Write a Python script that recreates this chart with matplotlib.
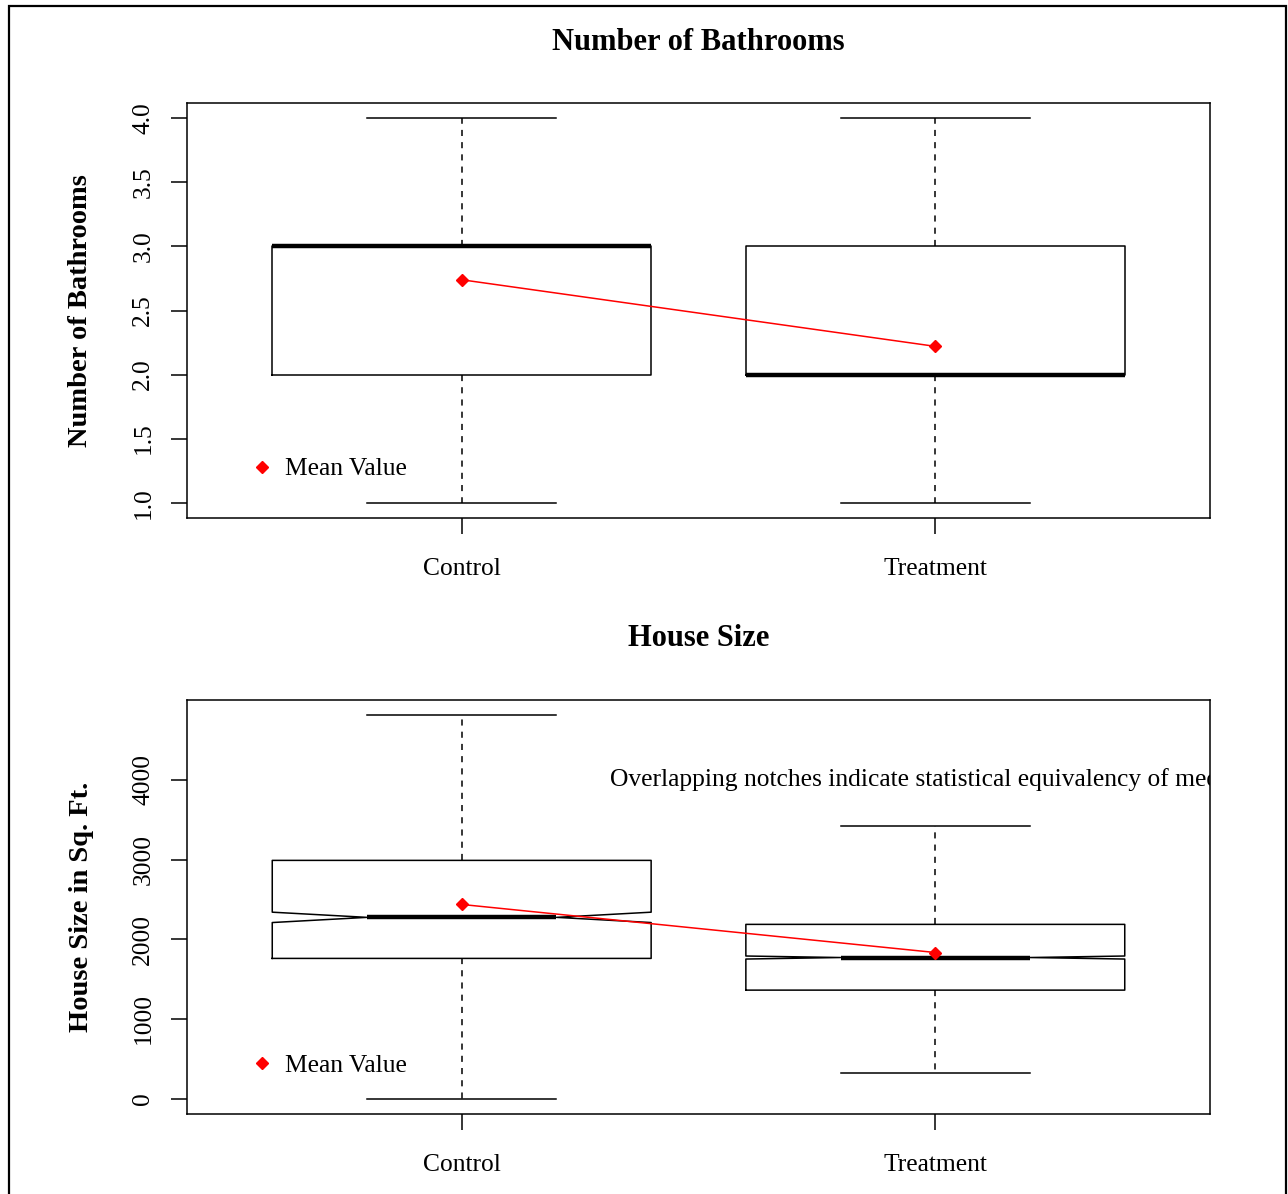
import matplotlib
matplotlib.use("Agg")
import matplotlib.pyplot as plt
from matplotlib.lines import Line2D
from matplotlib.patches import Rectangle

plt.rcParams["font.family"] = ["Liberation Serif", "DejaVu Serif"]

groups = ["Control", "Treatment"]

# number of bathrooms: five-number summaries and group means
bath_whislo = [1, 1]
bath_q1 = [2, 2]
bath_med = [3, 2]
bath_q3 = [3, 3]
bath_whishi = [4, 4]
bath_mean = [2.74, 2.22]

# house size (sq. ft.) with notch limits
size_whislo = [0, 325]
size_q1 = [1760, 1362]
size_med = [2275, 1771]
size_q3 = [2990, 2187]
size_whishi = [4810, 3420]
size_cilo = [2210, 1752]
size_cihi = [2340, 1790]
size_mean = [2437, 1834]

FS = 18.4
W, H = 1288, 1194
fig = plt.figure(figsize=(W / 100, H / 100), dpi=100)
fig.add_artist(Rectangle((9 / W, -0.05), 1277 / W, 1.05 - 6 / H, transform=fig.transFigure,
                         fill=False, lw=1.6, ec="black"))


def panel(rect, title, ylabel, lo, q1, med, q3, hi, means, cilo=None, cihi=None, yticks=None, fmt="{:g}"):
    ax = fig.add_axes(rect)
    stats = []
    for i in range(len(groups)):
        s = dict(whislo=lo[i], q1=q1[i], med=med[i], q3=q3[i], whishi=hi[i], fliers=[])
        if cilo is not None:
            s["cilo"], s["cihi"] = cilo[i], cihi[i]
        stats.append(s)
    ax.bxp(stats, positions=[1, 2], widths=0.8, shownotches=cilo is not None, showfliers=False,
           boxprops=dict(color="black", lw=1.1),
           whiskerprops=dict(color="black", lw=1.1, linestyle=(0, (4, 4))),
           capprops=dict(color="black", lw=1.1),
           medianprops=dict(color="black", lw=3.2, solid_capstyle="butt"))
    ax.plot([1, 2], means, color="red", lw=1.1, marker="D", ms=6, zorder=5)
    span = max(hi) - min(lo)
    ax.set_ylim(min(lo) - 0.04 * span, max(hi) + 0.04 * span)
    ax.set_xlim(0.42, 2.58)
    ax.set_xticks([1, 2])
    ax.set_xticklabels(groups, fontsize=FS)
    ax.set_yticks(yticks)
    ax.set_yticklabels([fmt.format(t) for t in yticks], fontsize=FS, rotation=90, va="center")
    ax.tick_params(axis="both", direction="out", length=11.5, width=1.1, color="black")
    ax.tick_params(axis="x", pad=17)
    ax.tick_params(axis="y", pad=12)
    for sp in ax.spines.values():
        sp.set_linewidth(1.1)
    ax.text(0.5, 1 + 61 / (rect[3] * H), title, transform=ax.transAxes, ha="center", va="center",
            fontsize=22, fontweight="bold")
    ax.text(-106 / (rect[2] * W), 0.5, ylabel, transform=ax.transAxes, ha="center", va="center",
            rotation=90, fontsize=20.5, fontweight="bold")
    handle = Line2D([], [], color="red", marker="D", ms=6, lw=0)
    ax.legend([handle], ["Mean Value"], loc="center left", bbox_to_anchor=(0.0635, 0.118),
              frameon=False, fontsize=FS, handlelength=0.8, handletextpad=0.5,
              borderpad=0, borderaxespad=0)
    return ax


panel([187 / W, 1 - 518 / H, 1023 / W, 415 / H], "Number of Bathrooms", "Number of Bathrooms",
      bath_whislo, bath_q1, bath_med, bath_q3, bath_whishi, bath_mean,
      yticks=[1.0, 1.5, 2.0, 2.5, 3.0, 3.5, 4.0], fmt="{:.1f}")

ax2 = panel([187 / W, 1 - 1114 / H, 1023 / W, 414 / H], "House Size", "House Size in Sq. Ft.",
            size_whislo, size_q1, size_med, size_q3, size_whishi, size_mean,
            cilo=size_cilo, cihi=size_cihi, yticks=[0, 1000, 2000, 3000, 4000])
ax2.text(2, 4000, "Overlapping notches indicate statistical equivalency of medians",
         ha="center", va="center", fontsize=FS, clip_on=True)

fig.savefig("out.png", dpi=100)
